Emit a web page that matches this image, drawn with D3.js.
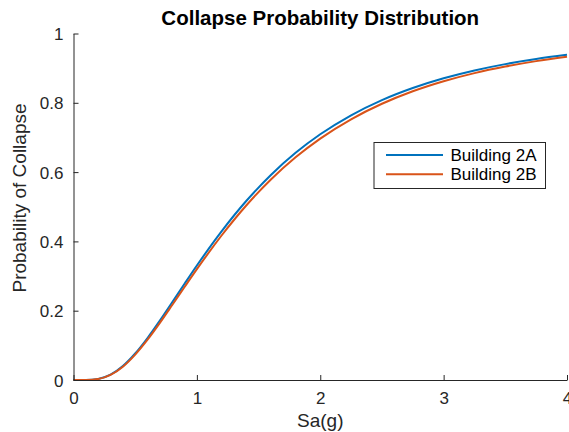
<!DOCTYPE html>
<html>
<head>
<meta charset="utf-8">
<script src="https://cdn.jsdelivr.net/npm/d3@7"></script>
<style>
  html, body { margin: 0; padding: 0; background: #fff; }
  svg { display: block; }
  text { font-family: "Liberation Sans", Arial, Helvetica, sans-serif; fill: #262626; }
</style>
</head>
<body>
<svg id="chart" width="569" height="432"></svg>
<script>
// Spectral acceleration Sa (g) at which collapse probability was evaluated
const saValues = [0, 0.1, 0.2, 0.3, 0.4, 0.5, 0.6, 0.7, 0.8, 0.9, 1.0,
                  1.2, 1.4, 1.6, 1.8, 2.0, 2.25, 2.5, 2.75, 3.0, 3.25, 3.5, 3.75, 4.0];

// Probability of collapse for each building
const building2A = [0, 0.0001, 0.0031, 0.0154, 0.0402, 0.0765, 0.1212, 0.1713, 0.2242, 0.2776, 0.3303,
                    0.4290, 0.5165, 0.5918, 0.6556, 0.7091, 0.7640, 0.8078, 0.8427, 0.8708, 0.8934, 0.9116, 0.9263, 0.9384];
const building2B = [0, 0.0001, 0.0030, 0.0148, 0.0385, 0.0734, 0.1165, 0.1650, 0.2164, 0.2684, 0.3199,
                    0.4170, 0.5037, 0.5787, 0.6427, 0.6967, 0.7524, 0.7972, 0.8332, 0.8622, 0.8857, 0.9047, 0.9203, 0.9330];

const seriesNames = ["Building 2A", "Building 2B"];
const xTicks = [0, 1, 2, 3, 4];
const yTicks = [0, 0.2, 0.4, 0.6, 0.8, 1];

const titleText = "Collapse Probability Distribution";
const xLabelText = "Sa(g)";
const yLabelText = "Probability of Collapse";

const colors = ["#0072BD", "#D95319"];
const axisColor = "#262626";

const svg = d3.select("#chart");
const plot = { left: 73.5, right: 567, top: 33.5, bottom: 380 };

const x = d3.scaleLinear().domain([0, 4]).range([plot.left, plot.right]);
const y = d3.scaleLinear().domain([0, 1]).range([plot.bottom, plot.top]);

// Curves
const series = [building2A, building2B].map((vals, i) => ({
  name: seriesNames[i],
  color: colors[i],
  points: saValues.map((s, j) => [s, vals[j]])
}));

const line = d3.line()
  .x(d => x(d[0]))
  .y(d => y(d[1]))
  .curve(d3.curveMonotoneX);

svg.append("g")
  .selectAll("path")
  .data(series)
  .join("path")
  .attr("d", d => line(d.points))
  .attr("fill", "none")
  .attr("stroke", d => d.color)
  .attr("stroke-width", 2)
  .attr("stroke-linejoin", "round");

// Axes (inward ticks, no box)
const xAxis = d3.axisBottom(x).tickValues(xTicks).tickSizeInner(-5).tickSizeOuter(0)
  .tickPadding(14).tickFormat(d3.format("d"));
const yAxis = d3.axisLeft(y).tickValues(yTicks).tickSizeInner(-5).tickSizeOuter(0)
  .tickPadding(15).tickFormat(d => d === 0 || d === 1 ? String(d) : d.toFixed(1));

const gx = svg.append("g").attr("transform", `translate(0,${plot.bottom})`).call(xAxis);
const gy = svg.append("g").attr("transform", `translate(${plot.left},0)`).call(yAxis);

[gx, gy].forEach(g => {
  g.select(".domain").attr("stroke", axisColor).attr("stroke-width", 1);
  g.selectAll(".tick line").attr("stroke", axisColor).attr("stroke-width", 1);
  g.selectAll(".tick text")
    .attr("font-family", "'Liberation Sans', Arial, sans-serif")
    .attr("font-size", 17)
    .attr("fill", axisColor);
});
gx.selectAll(".tick text").attr("dy", "0.71em").attr("y", 12);
gy.selectAll(".tick text").attr("x", -10).attr("dy", "0.36em");

// Title
svg.append("text")
  .attr("x", (plot.left + plot.right) / 2)
  .attr("y", 25)
  .attr("text-anchor", "middle")
  .attr("font-size", 20.5)
  .attr("font-weight", "bold")
  .style("fill", "#000")
  .text(titleText);

// Axis labels
svg.append("text")
  .attr("x", (plot.left + plot.right) / 2)
  .attr("y", 427)
  .attr("text-anchor", "middle")
  .attr("font-size", 19)
  .text(xLabelText);

svg.append("text")
  .attr("transform", `translate(25.5,198) rotate(-90)`)
  .attr("text-anchor", "middle")
  .attr("font-size", 19)
  .text(yLabelText);

// Legend
const legend = svg.append("g");
legend.append("rect")
  .attr("x", 374).attr("y", 142.5)
  .attr("width", 171.5).attr("height", 46)
  .attr("fill", "#fff")
  .attr("stroke", axisColor)
  .attr("stroke-width", 1);

const rows = legend.selectAll("g.row")
  .data(series)
  .join("g")
  .attr("class", "row")
  .attr("transform", (d, i) => `translate(0,${155 + i * 19.3})`);

rows.append("line")
  .attr("x1", 386).attr("x2", 443)
  .attr("stroke", d => d.color)
  .attr("stroke-width", 2);

rows.append("text")
  .attr("x", 450.5)
  .attr("dy", "0.36em")
  .attr("font-size", 17)
  .style("fill", "#000")
  .text(d => d.name);
</script>
</body>
</html>
